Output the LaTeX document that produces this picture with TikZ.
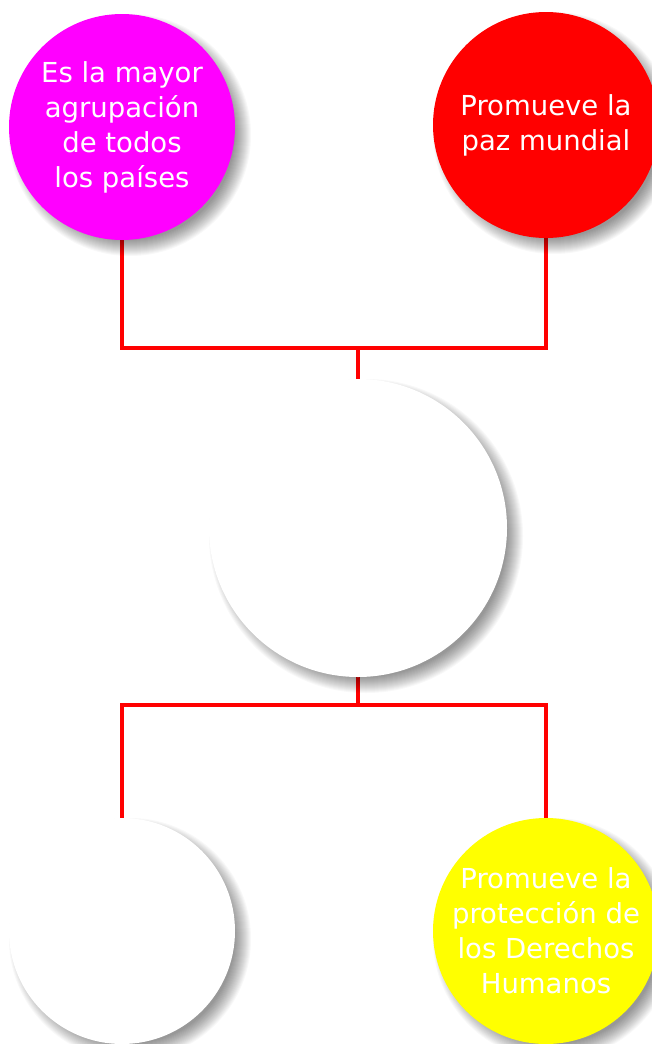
\documentclass[tikz,border=0pt]{standalone}
\usepackage{fontspec}
\setmainfont{DejaVu Sans}
\definecolor{cmag}{RGB}{255,0,255}
\definecolor{cred}{RGB}{255,0,0}
\definecolor{cyel}{RGB}{255,255,0}
\pgfdeclarelayer{bg}
\pgfdeclarelayer{shadowlayer}
\pgfsetlayers{bg,shadowlayer,main}
\tikzset{
  bubble/.style={circle, inner sep=0pt, minimum size=#1, text=white, align=center,
    font=\fontsize{27.5}{35}\selectfont},
  link/.style={draw=cred, line width=4.8pt},
}
\begin{document}
\begin{tikzpicture}[x=1pt, y=-1pt]
\useasboundingbox (0,0) rectangle (652,1044);
\node[bubble=226pt, fill=cmag] (m) at (122,127) {Es la mayor\\agrupación\\de todos\\los países};
\node[bubble=226pt, fill=cred] (r) at (546,125) {Promueve la\\paz mundial};
\node[bubble=298pt, fill=white] (c) at (358,528) {};
\node[bubble=226pt, fill=white] (bl) at (122,931) {};
\node[bubble=226pt, fill=cyel] (y) at (546,931) {Promueve la\\protección de\\los Derechos\\Humanos};
\coordinate (jt) at (358,348);
\coordinate (stemend) at (358,383);
\coordinate (jb) at (358,705);
\begin{pgfonlayer}{bg}
  \fill[white] (0,0) rectangle (652,1044);
  \draw[link] (m.south) |- (jt) -| (r.south);
  \draw[link] (jt) -- (stemend);
  \draw[link] (c.south) -- (jb);
  \draw[link] (jb) -| (bl.north);
  \draw[link] (jb) -| (y.north);
\end{pgfonlayer}
\begin{pgfonlayer}{shadowlayer}
  \foreach \n/\rad in {m/113, r/113, c/149, bl/113, y/113}{
    \foreach \d in {-8,-7,...,8}{
      \fill[black, opacity=0.026] ([shift={(8,8)}]\n.center) circle[radius=\rad+\d];
    }
  }
\end{pgfonlayer}
\end{tikzpicture}
\end{document}
